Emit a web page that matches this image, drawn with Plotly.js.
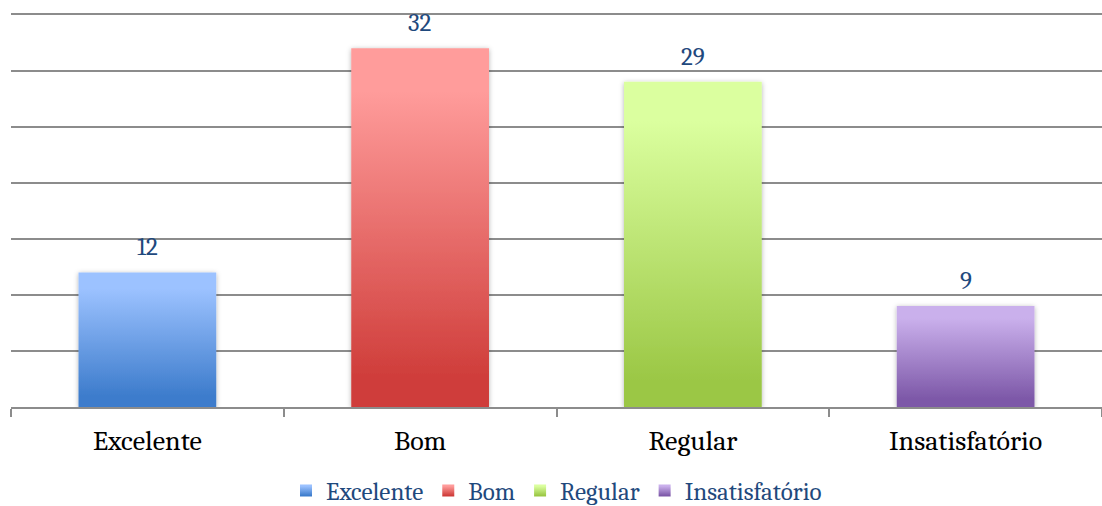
<!DOCTYPE html>
<html><head><meta charset="utf-8">
<script src="https://cdn.plot.ly/plotly-3.0.1.min.js"></script>
<style>html,body{margin:0;padding:0;background:#fff}#chart{width:1102px;height:506px}</style>
</head><body><div id="chart"></div>
<script>
const categories = ["Excelente", "Bom", "Regular", "Insatisfatório"];
const values = [12, 32, 29, 9];
const topColors = ["#9CC2FF", "#FF9C9B", "#DBFF9F", "#CAB0EC"];
const bottomColors = ["#3D7CCC", "#CF3D3A", "#9BC745", "#7D58A8"];
const FONT = "Cambria, Caladea, 'Liberation Serif', serif";

const traces = categories.map((c, i) => ({
  type: "bar", name: c, x: [c], y: [values[i]],
  marker: {color: bottomColors[i], line: {width: 0}},
  hoverinfo: "none"
}));

const annotations = categories.map((c, i) => ({
  x: c, y: values[i], xref: "x", yref: "y", text: String(values[i]),
  showarrow: false, yanchor: "bottom", yshift: 9,
  font: {family: FONT, size: 25, color: "#1F497D"}
}));

const layout = {
  width: 1102, height: 506,
  margin: {l: 11, r: 0, t: 10, b: 99},
  paper_bgcolor: "#fff", plot_bgcolor: "#fff",
  barmode: "overlay", bargap: 0.495,
  showlegend: true,
  annotations: annotations,
  legend: {orientation: "h", x: 0.5, xanchor: "center", xref: "paper",
    y: 0.03, yanchor: "middle", yref: "container",
    font: {family: FONT, size: 25, color: "#1F497D"}, itemwidth: 30, tracegroupgap: 0},
  xaxis: {type: "category", showline: true, linecolor: "#8C8C8C", linewidth: 2,
    ticks: "outside", tickson: "boundaries", ticklen: 8, tickcolor: "#8C8C8C", tickwidth: 2,
    ticklabelstandoff: 7,
    tickfont: {family: FONT, size: 28, color: "#000"}, showgrid: false, zeroline: false,
    automargin: false, fixedrange: true},
  yaxis: {range: [0, 35.4], tick0: 0, dtick: 5, showticklabels: false, showgrid: true,
    gridcolor: "#8C8C8C", gridwidth: 2, zeroline: false, showline: false,
    automargin: false, fixedrange: true}
};

Plotly.newPlot("chart", traces, layout, {displayModeBar: false, staticPlot: true}).then(gd => {
  const svg = gd.querySelector("svg.main-svg");
  const ns = "http://www.w3.org/2000/svg";
  let defs = svg.querySelector("defs");
  if (!defs) { defs = document.createElementNS(ns, "defs"); svg.insertBefore(defs, svg.firstChild); }
  const f = document.createElementNS(ns, "filter");
  f.setAttribute("id", "barshadow");
  f.setAttribute("x", "-10%"); f.setAttribute("y", "-10%");
  f.setAttribute("width", "120%"); f.setAttribute("height", "120%");
  const ds = document.createElementNS(ns, "feDropShadow");
  ds.setAttribute("dx", "0"); ds.setAttribute("dy", "1");
  ds.setAttribute("stdDeviation", "2.5");
  ds.setAttribute("flood-color", "#000"); ds.setAttribute("flood-opacity", "0.3");
  f.appendChild(ds); defs.appendChild(f);
  categories.forEach((c, i) => {
    const g = document.createElementNS(ns, "linearGradient");
    g.setAttribute("id", "grad" + i);
    g.setAttribute("x1", "0"); g.setAttribute("y1", "0");
    g.setAttribute("x2", "0"); g.setAttribute("y2", "1");
    [[0, topColors[i]], [0.12, topColors[i]], [0.92, bottomColors[i]], [1, bottomColors[i]]].forEach(([o, col]) => {
      const s = document.createElementNS(ns, "stop");
      s.setAttribute("offset", o); s.setAttribute("stop-color", col);
      g.appendChild(s);
    });
    defs.appendChild(g);
  });
  gd.querySelectorAll(".barlayer .trace").forEach((t, i) => {
    t.querySelectorAll(".point path").forEach(p => {
      p.style.fill = "url(#grad" + i + ")";
      p.setAttribute("filter", "url(#barshadow)");
    });
  });
  gd.querySelectorAll(".legend .traces").forEach((t, i) => {
    t.querySelectorAll(".legendpoints path").forEach(p => { p.style.fill = "url(#grad" + i + ")"; });
  });
});
</script></body></html>
